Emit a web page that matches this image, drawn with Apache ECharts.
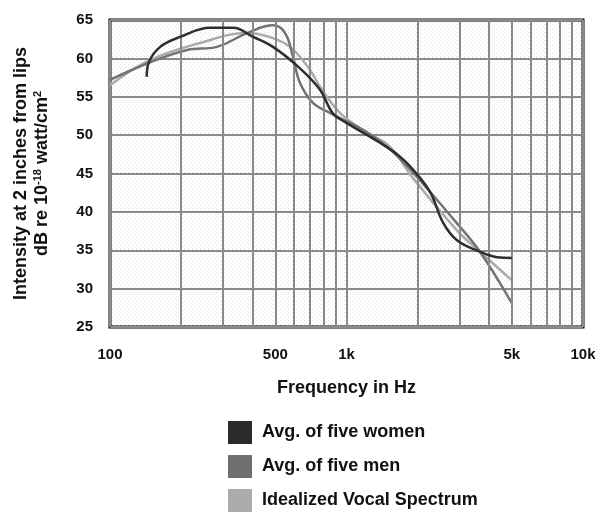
<!DOCTYPE html>
<html>
<head>
<meta charset="utf-8">
<script src="https://cdn.jsdelivr.net/npm/echarts@6/dist/echarts.min.js"></script>
<style>
  html, body { margin: 0; padding: 0; background: #fff; }
  #main { width: 602px; height: 512px; }
</style>
</head>
<body>
<div id="main"></div>
<script>
// frequency (Hz), intensity (dB)
var women = [[143,57.6],[146,59.5],[163,61.5],[198,62.8],[265,64.0],[332,64.0],[403,62.8],[489,61.5],[636,58.7],[773,55.9],[877,52.8],[1000,51.6],[1386,49.0],[1684,47.2],[1911,45.5],[2255,42.6],[2560,38.6],[2933,36.3],[3668,34.8],[4329,34.1],[5000,34.0]];
var men = [[100,57.2],[148,59.5],[212,61.1],[283,61.5],[380,63.3],[489,64.3],[550,63.3],[594,60.2],[636,56.8],[722,54.2],[851,52.9],[1175,50.7],[1483,48.5],[1911,45.1],[2933,38.5],[3668,34.8],[5000,28.1]];
var idealized = [[100,56.5],[148,59.8],[240,62.0],[380,63.3],[460,62.9],[577,61.5],[701,58.5],[773,56.3],[939,52.9],[1221,50.3],[1525,48.5],[1911,44.4],[2933,37.6],[3668,34.8],[5000,31.1]];

var seriesNames = ['Avg. of five women', 'Avg. of five men', 'Idealized Vocal Spectrum'];
var gridFreqs = [200,300,400,500,600,700,800,900,2000,3000,4000,5000,6000,7000,8000,9000];
var extraLabels = [500, 5000];

function fmtHz(v) { return v >= 1000 ? (v / 1000) + 'k' : String(v); }

// dotted paper texture
var pat = document.createElement('canvas');
pat.width = 4; pat.height = 4;
var pc = pat.getContext('2d');
pc.fillStyle = '#ffffff'; pc.fillRect(0, 0, 4, 4);
pc.fillStyle = '#dedede'; pc.fillRect(0, 0, 1, 1); pc.fillRect(2, 2, 1, 1);

var font = '"Liberation Sans", Arial, sans-serif';
var tickFont = { fontFamily: font, fontWeight: 'bold', fontSize: 15, color: '#111' };
var myChart = echarts.init(document.getElementById('main'));
myChart.setOption({
  backgroundColor: '#fff',
  animation: false,
  grid: {
    left: 110, top: 20, right: 19, bottom: 185,
    containLabel: false,
    outerBoundsMode: 'none',
    show: true,
    borderColor: '#000',
    borderWidth: 3,
    backgroundColor: { image: pat, repeat: 'repeat' }
  },
  legend: {
    data: seriesNames,
    orient: 'vertical',
    left: 228, top: 421, padding: 0,
    itemWidth: 24, itemHeight: 23, itemGap: 11,
    icon: 'rect',
    textStyle: { fontFamily: font, fontWeight: 'bold', fontSize: 18, color: '#111', padding: [0, 0, 0, 5] }
  },
  xAxis: {
    type: 'log', logBase: 10, min: 100, max: 10000,
    name: 'Frequency in Hz',
    nameLocation: 'middle', nameGap: 52, nameMoveOverlap: false,
    nameTextStyle: { fontFamily: font, fontWeight: 'bold', fontSize: 18, color: '#111' },
    axisLine: { show: false },
    axisTick: { show: false },
    axisLabel: Object.assign({ margin: 20, formatter: fmtHz }, tickFont),
    splitLine: { show: true, lineStyle: { color: '#8a8a8a', width: 2 } }
  },
  yAxis: {
    type: 'value', min: 25, max: 65, interval: 5,
    name: 'Intensity at 2 inches from lips\n{n|dB re 10}{s|-18}{n| watt/cm}{s|2}',
    nameLocation: 'middle', nameGap: 57, nameMoveOverlap: false,
    nameTextStyle: {
      fontFamily: font, fontWeight: 'bold', fontSize: 18, color: '#111', lineHeight: 21, align: 'center',
      rich: {
        n: { fontFamily: font, fontWeight: 'bold', fontSize: 18, color: '#111', lineHeight: 21 },
        s: { fontFamily: font, fontWeight: 'bold', fontSize: 11, color: '#111', verticalAlign: 'top', lineHeight: 21 }
      }
    },
    axisLine: { show: false },
    axisTick: { show: false },
    axisLabel: Object.assign({ margin: 17 }, tickFont),
    splitLine: { show: true, lineStyle: { color: '#8a8a8a', width: 2 } }
  },
  series: [
    {
      name: 'grid', type: 'line', data: [], silent: true, z: 1,
      markLine: {
        silent: true, symbol: 'none', animation: false,
        lineStyle: { type: 'solid', color: '#8a8a8a', width: 2 },
        label: { show: false },
        data: gridFreqs.map(function (f) {
          var lab = extraLabels.indexOf(f) >= 0;
          return {
            xAxis: f,
            label: lab ? Object.assign({ show: true, position: 'start', distance: 20, formatter: fmtHz(f) }, tickFont)
                       : { show: false }
          };
        })
      }
    },
    {
      name: seriesNames[2], type: 'line', data: idealized, smooth: 0.4, showSymbol: false, z: 3,
      itemStyle: { color: '#ababab' }, lineStyle: { color: '#ababab', width: 2.5 }
    },
    {
      name: seriesNames[1], type: 'line', data: men, smooth: 0.4, showSymbol: false, z: 4,
      itemStyle: { color: '#707070' }, lineStyle: { color: '#737373', width: 2.5 }
    },
    {
      name: seriesNames[0], type: 'line', data: women, smooth: 0.4, showSymbol: false, z: 5,
      itemStyle: { color: '#2a2a2a' }, lineStyle: { color: '#2e2e2e', width: 2.5 }
    }
  ]
});
</script>
</body>
</html>
